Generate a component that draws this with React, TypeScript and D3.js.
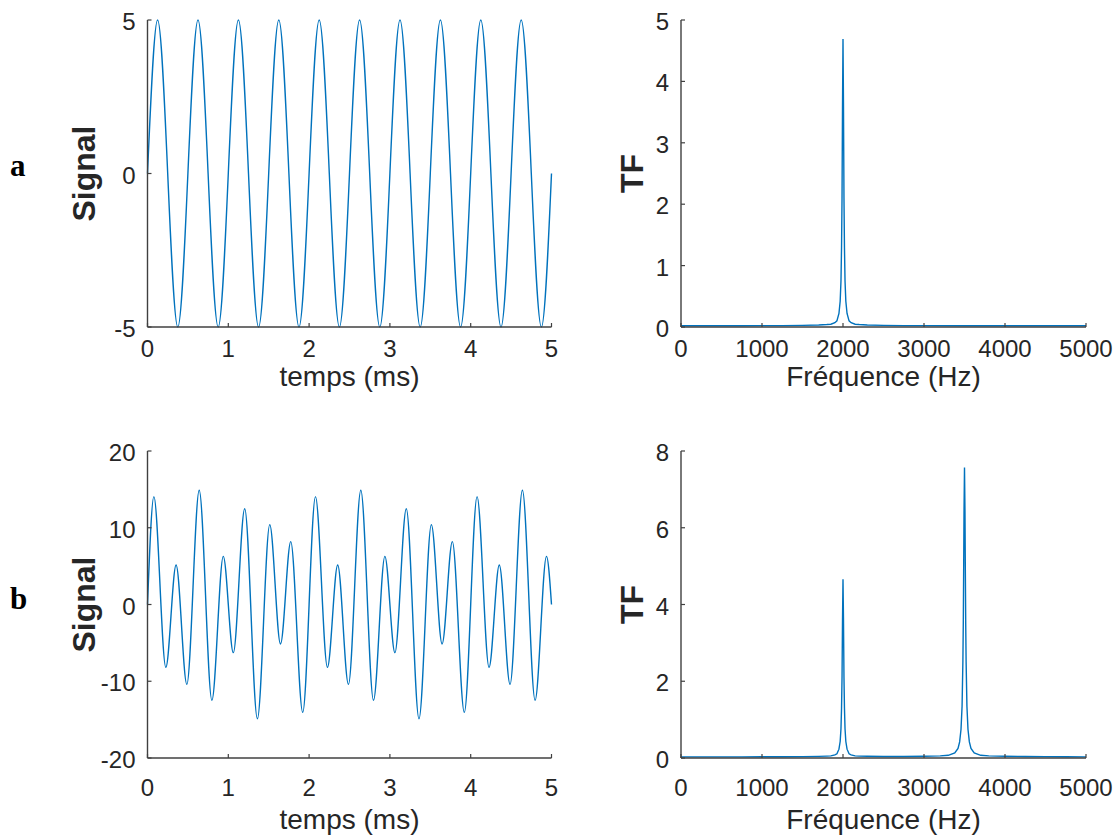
import React from "react";
import * as d3 from "d3";

// ---- Data ----
// (a) time signal: extrema of the 2000 Hz sine (t in ms)
const timeA = [0, 0.125, 0.375, 0.625, 0.875, 1.125, 1.375, 1.625, 1.875, 2.125, 2.375, 2.625, 2.875, 3.125, 3.375, 3.625, 3.875, 4.125, 4.375, 4.625, 4.875, 5];
const signalA = [0, 5, -5, 5, -5, 5, -5, 5, -5, 5, -5, 5, -5, 5, -5, 5, -5, 5, -5, 5, -5, 0];

// (b) time signal: extrema of the two-tone signal
const timeB = [0, 0.079, 0.227, 0.354, 0.487, 0.64, 0.797, 0.938, 1.062, 1.203, 1.36, 1.513, 1.646, 1.773, 1.921,
  2.079, 2.227, 2.354, 2.487, 2.64, 2.797, 2.938, 3.062, 3.203, 3.36, 3.513, 3.646, 3.773, 3.921,
  4.079, 4.227, 4.354, 4.487, 4.64, 4.797, 4.938, 5];
const signalB = [0, 14.05, -8.19, 5.15, -10.41, 14.89, -12.48, 6.27, -6.27, 12.48, -14.89, 10.41, -5.15, 8.19, -14.05,
  14.05, -8.19, 5.15, -10.41, 14.89, -12.48, 6.27, -6.27, 12.48, -14.89, 10.41, -5.15, 8.19, -14.05,
  14.05, -8.19, 5.15, -10.41, 14.89, -12.48, 6.27, 0];

// (a) spectrum
const freqA = [0, 250, 500, 750, 1000, 1250, 1500, 1700, 1800, 1850, 1900, 1925, 1950, 1965, 1975, 1982, 1988, 1994, 2000,
  2006, 2012, 2018, 2025, 2035, 2050, 2075, 2100, 2150, 2200, 2300, 2500, 2750, 3000, 3500, 4000, 4500, 5000];
const tfA = [0.02, 0.02, 0.02, 0.02, 0.022, 0.023, 0.027, 0.033, 0.04, 0.045, 0.07, 0.1, 0.22, 0.42, 0.75, 1.3, 2.1, 3.6, 4.69,
  3.6, 2.1, 1.3, 0.75, 0.42, 0.22, 0.1, 0.07, 0.045, 0.04, 0.033, 0.027, 0.023, 0.022, 0.02, 0.02, 0.02, 0.02];

// (b) spectrum
const freqB = [0, 250, 500, 750, 1000, 1250, 1500, 1700, 1800, 1850, 1900, 1925, 1950, 1965, 1975, 1982, 1988, 1994, 2000,
  2006, 2012, 2018, 2025, 2035, 2050, 2075, 2100, 2150, 2200, 2300, 2500, 2750, 3000, 3200, 3300, 3380, 3420, 3440, 3457, 3470, 3480, 3485, 3490, 3494, 3500,
  3506, 3510, 3515, 3520, 3530, 3543, 3560, 3580, 3620, 3700, 3800, 4000, 4250, 4500, 4750, 5000];
const tfB = [0.03, 0.03, 0.03, 0.03, 0.032, 0.033, 0.037, 0.043, 0.05, 0.055, 0.08, 0.11, 0.23, 0.43, 0.76, 1.3, 2.1, 3.6, 4.66,
  3.6, 2.1, 1.3, 0.76, 0.43, 0.23, 0.11, 0.08, 0.055, 0.05, 0.045, 0.04, 0.04, 0.045, 0.055, 0.07, 0.13, 0.25, 0.42, 0.75, 1.35, 2.5, 3.5, 5.0, 6.4, 7.57,
  6.4, 5.0, 3.5, 2.5, 1.35, 0.75, 0.42, 0.25, 0.13, 0.07, 0.055, 0.045, 0.04, 0.035, 0.032, 0.03];

const timeTicks = [0, 1, 2, 3, 4, 5];
const freqTicks = [0, 1000, 2000, 3000, 4000, 5000];
const yTicksSignalA = [-5, 0, 5];
const yTicksSignalB = [-20, -10, 0, 10, 20];
const yTicksTfA = [0, 1, 2, 3, 4, 5];
const yTicksTfB = [0, 2, 4, 6, 8];

const LINE = "#0072BD";
const AXIS = "#404040";
const TEXT = "#262626";
const FONT = "'Liberation Sans', Arial, Helvetica, sans-serif";

type PanelProps = {
  x0: number; x1: number; yTop: number; yBot: number;
  xDomain: [number, number]; yDomain: [number, number];
  xTicks: number[]; yTicks: number[];
  xs: number[]; ys: number[];
  smooth: boolean;
  xLabel: string; yLabel: string; yLabelSize: number;
  xTickBase: number; xLabelBase: number; yLabelX: number;
};

function Panel(p: PanelProps) {
  const x = d3.scaleLinear().domain(p.xDomain).range([p.x0, p.x1]);
  const y = d3.scaleLinear().domain(p.yDomain).range([p.yBot, p.yTop]);
  const pts = p.xs.map((v, i) => [v, p.ys[i]] as [number, number]);
  const line = d3.line<[number, number]>()
    .x(d => x(d[0]))
    .y(d => y(d[1]))
    .curve(p.smooth ? d3.curveMonotoneX : d3.curveLinear);
  const tl = 4;
  const yMid = (p.yTop + p.yBot) / 2;
  return (
    <g>
      <path d={line(pts) || ""} fill="none" stroke={LINE} strokeWidth={1.4} />
      <line x1={p.x0} x2={p.x1} y1={p.yBot} y2={p.yBot} stroke={AXIS} strokeWidth={1.4} />
      <line x1={p.x0} x2={p.x0} y1={p.yTop} y2={p.yBot} stroke={AXIS} strokeWidth={1.4} />
      {p.xTicks.map(t => (
        <g key={"xt" + t}>
          <line x1={x(t)} x2={x(t)} y1={p.yBot} y2={p.yBot - tl} stroke={AXIS} strokeWidth={1.2} />
          <text x={x(t)} y={p.xTickBase} textAnchor="middle" fontSize={24} fill={TEXT} fontFamily={FONT}>{t}</text>
        </g>
      ))}
      {p.yTicks.map(t => (
        <g key={"yt" + t}>
          <line x1={p.x0} x2={p.x0 + tl} y1={y(t)} y2={y(t)} stroke={AXIS} strokeWidth={1.2} />
          <text x={p.x0 - 12} y={y(t) + 10} textAnchor="end" fontSize={24} fill={TEXT} fontFamily={FONT}>{t}</text>
        </g>
      ))}
      <text x={(p.x0 + p.x1) / 2} y={p.xLabelBase} textAnchor="middle" fontSize={28} fill={TEXT} fontFamily={FONT}>{p.xLabel}</text>
      <text transform={`translate(${p.yLabelX},${yMid}) rotate(-90)`} textAnchor="middle" fontSize={p.yLabelSize} fontWeight="bold" fill={TEXT} fontFamily={FONT}>{p.yLabel}</text>
    </g>
  );
}

export default function App() {
  return (
    <svg width={1120} height={839} style={{ position: "absolute", left: 0, top: 0, background: "#fff" }}>
      <rect width={1120} height={839} fill="#fff" />
      <text x={10} y={176} fontSize={31} fontWeight="bold" fontFamily="'Liberation Serif', 'Times New Roman', serif" fill="#000">a</text>
      <text x={10} y={609} fontSize={31} fontWeight="bold" fontFamily="'Liberation Serif', 'Times New Roman', serif" fill="#000">b</text>
      <Panel x0={147.5} x1={551.5} yTop={20} yBot={327} xDomain={[0, 5]} yDomain={[-5, 5]}
        xTicks={timeTicks} yTicks={yTicksSignalA} xs={timeA} ys={signalA} smooth
        xLabel="temps (ms)" yLabel="Signal" yLabelSize={32} xTickBase={357} xLabelBase={386} yLabelX={95} />
      <Panel x0={681} x1={1086} yTop={20} yBot={327} xDomain={[0, 5000]} yDomain={[0, 5]}
        xTicks={freqTicks} yTicks={yTicksTfA} xs={freqA} ys={tfA} smooth={false}
        xLabel="Fréquence (Hz)" yLabel="TF" yLabelSize={32} xTickBase={357} xLabelBase={386} yLabelX={643} />
      <Panel x0={147.5} x1={551.5} yTop={451} yBot={758} xDomain={[0, 5]} yDomain={[-20, 20]}
        xTicks={timeTicks} yTicks={yTicksSignalB} xs={timeB} ys={signalB} smooth
        xLabel="temps (ms)" yLabel="Signal" yLabelSize={32} xTickBase={796} xLabelBase={829} yLabelX={95} />
      <Panel x0={681} x1={1086} yTop={451} yBot={758} xDomain={[0, 5000]} yDomain={[0, 8]}
        xTicks={freqTicks} yTicks={yTicksTfB} xs={freqB} ys={tfB} smooth={false}
        xLabel="Fréquence (Hz)" yLabel="TF" yLabelSize={32} xTickBase={796} xLabelBase={829} yLabelX={643} />
    </svg>
  );
}
